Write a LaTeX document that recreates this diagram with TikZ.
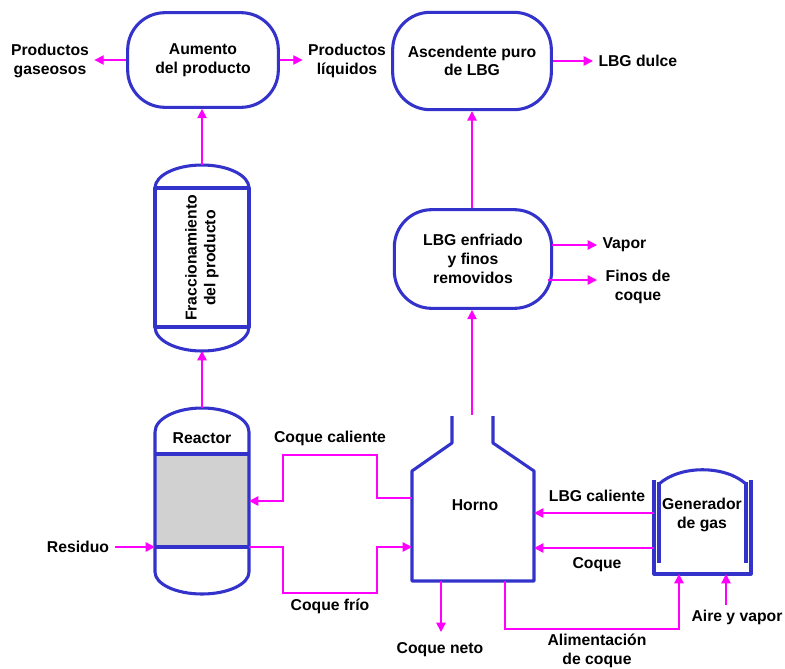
\documentclass[tikz,border=0pt]{standalone}
\usepackage{fontspec}
\setmainfont{Liberation Sans}
\usetikzlibrary{arrows.meta}
\definecolor{vesselblue}{RGB}{51,51,204}
\definecolor{flowpink}{RGB}{255,0,255}

\begin{document}
\begin{tikzpicture}[x=0.75pt,y=-0.75pt,
    vessel/.style={draw=vesselblue,line width=2.3pt,line join=round},
    unit/.style={vessel,rounded corners=28pt,align=center,font=\bfseries},
    flow/.style={draw=flowpink,line width=1.1pt,-{Triangle[length=7pt,width=7pt]}},
    lbl/.style={align=center,font=\bfseries}]
    \useasboundingbox (0,0) rectangle (785,668);
    \fontsize{11.8}{14}\selectfont

    % stadium shaped units
    \node[unit,minimum width=113pt,minimum height=71pt] (aumento) at (203,60) {Aumento\\del producto};
    \node[unit,minimum width=119pt,minimum height=73pt] (ascendente) at (472,61) {Ascendente puro\\de LBG};
    \node[unit,minimum width=118pt,minimum height=74pt] (enfriado) at (473,259) {LBG enfriado\\y finos\\removidos};

    % fraccionamiento column
    \coordinate (frtop) at (202,165);
    \coordinate (frbot) at (202,351);
    \draw[vessel] (155,188) rectangle (249,327);
    \draw[vessel] (155,188) arc[start angle=180,end angle=360,x radius=47,y radius=23];
    \draw[vessel] (155,327) arc[start angle=180,end angle=0,x radius=47,y radius=24];
    \node[lbl,rotate=90] (frac) at (202,258) {Fraccionamiento\\del producto};

    % reactor
    \coordinate (retop) at (202,408);
    \fill[black!18] (155,454) rectangle (249,547);
    \draw[vessel] (155,432) -- (155,572) arc[start angle=180,end angle=0,x radius=47,y radius=22]
        -- (249,432) arc[start angle=360,end angle=180,x radius=47,y radius=24];
    \draw[vessel] (155,454) -- (249,454);
    \draw[vessel] (155,547) -- (249,547);
    \node[lbl] (reactor) at (202,438) {Reactor};

    % horno
    \coordinate (hneck) at (472,415);
    \draw[vessel] (452,416) -- (452,443) -- (412,471) -- (412,581) -- (534,581)
        -- (534,471) -- (493,443) -- (493,416);
    \node[lbl] (horno) at (475,505) {Horno};

    % generador de gas
    \draw[vessel] (654,480) -- (654,574) -- (751,574) -- (751,480);
    \draw[vessel] (659,482) -- (659,563);
    \draw[vessel] (746,482) -- (746,563);
    \draw[vessel] (659,484) .. controls (680,465) and (725,465) .. (746,484);
    \node[lbl] (generador) at (702,515) {Generador\\de gas};

    % labels
    \node[lbl] (gaseosos) at (50,61) {Productos\\gaseosos};
    \node[lbl] (liquidos) at (347,61) {Productos\\líquidos};
    \node[lbl,anchor=west] (dulce) at (593,61) {LBG dulce};
    \node[lbl,anchor=west] (vapor) at (597,245) {Vapor};
    \node[lbl] (finos) at (638,287) {Finos de\\coque};
    \node[lbl] (residuo) at (78,547) {Residuo};
    \node[lbl] (caliente) at (330,438) {Coque caliente};
    \node[lbl] (frio) at (330,606) {Coque frío};
    \node[lbl] (lbgcal) at (597,496) {LBG caliente};
    \node[lbl] (coque) at (597,565) {Coque};
    \node[lbl] (neto) at (440,650) {Coque neto};
    \node[lbl] (alim) at (597,651) {Alimentación\\de coque};
    \node[lbl] (aire) at (737,617) {Aire y vapor};

    % flows
    \draw[flow] (aumento.west) -- (aumento.west -| gaseosos.east);
    \draw[flow] (aumento.east) -- (aumento.east -| liquidos.west);
    \draw[flow] (ascendente.east) -- (ascendente.east -| dulce.west);
    \draw[flow] (frtop) -- (frtop |- aumento.south);
    \draw[flow] (retop) -- (frbot);
    \draw[flow] (hneck) -- (enfriado.south -| hneck);
    \draw[flow] (enfriado.north -| hneck) -- (ascendente.south -| hneck);
    \draw[flow] (552,245) -- (vapor.west);
    \draw[flow] (548,280) -- (597,280);
    \draw[flow] (residuo.east) -- (155,547);
    \draw[flow] (412,498) -- (377,498) -- (377,455) -- (283,455) -- (283,501) -- (249,501);
    \draw[flow] (249,547) -- (283,547) -- (283,593) -- (377,593) -- (377,547) -- (412,547);
    \draw[flow] (654,513) -- (534,513);
    \draw[flow] (654,548) -- (534,548);
    \draw[flow] (441,581) -- (441,632);
    \draw[flow] (505,581) -- (505,629) -- (679,629) -- (679,574);
    \draw[flow] (726,605) -- (726,574);
\end{tikzpicture}
\end{document}
